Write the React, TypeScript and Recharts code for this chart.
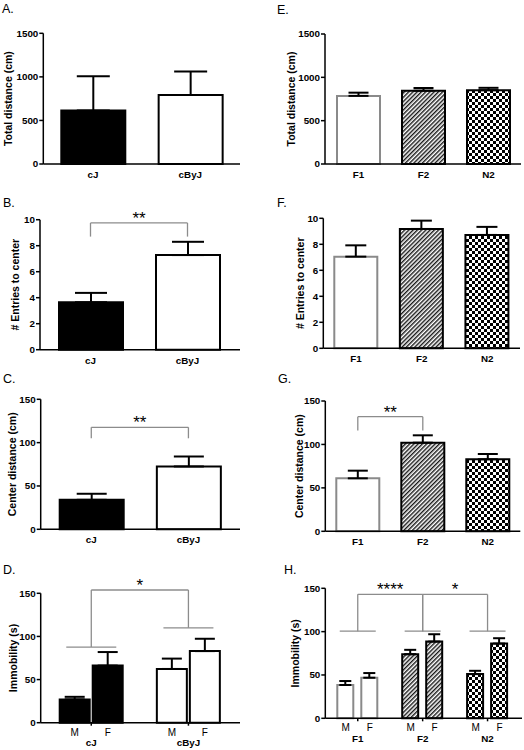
import React from 'react';
import { BarChart, Bar, XAxis, YAxis, ErrorBar, Cell, ReferenceLine, Label } from 'recharts';

const FONT = '"Liberation Sans", Arial, Helvetica, sans-serif';
const GREY = '#8c8c8c';

// parental strains (A-D)
const strains = ['cJ', 'cByJ'];
const totalDistStrain = [615, 792];
const totalDistStrainErr = [393, 269];
const entriesStrain = [3.65, 7.28];
const entriesStrainErr = [0.72, 1.02];
const centerDistStrain = [34, 72.5];
const centerDistStrainErr = [7, 11.5];
const immobStrainM = [27, 62.3];
const immobStrainMErr = [3, 12];
const immobStrainF = [66.2, 83];
const immobStrainFErr = [15.7, 14.3];

// crosses (E-H)
const crosses = ['F1', 'F2', 'N2'];
const totalDistCross = [786, 846, 852];
const totalDistCrossErr = [37, 31, 27];
const entriesCross = [7.05, 9.18, 8.72];
const entriesCrossErr = [0.87, 0.64, 0.62];
const centerDistCross = [61, 102, 82.9];
const centerDistCrossErr = [8.8, 8.5, 6.1];
const immobCrossM = [38.4, 74, 51];
const immobCrossMErr = [4.6, 5, 3.8];
const immobCrossF = [46.8, 88.5, 86.2];
const immobCrossFErr = [5.4, 8.5, 6.2];

const sexes = ['M', 'F'];

const distTicks = [0, 500, 1000, 1500];
const entryTicks = [0, 2, 4, 6, 8, 10];
const secTicks = [0, 50, 100, 150];

type Sig = { from: string; to: string; top: number; footFrom: number; footTo: number; text: string };
type Frame = { left: number; top: number; width: number; height: number; x0: number; x1: number; y0: number; y1: number; xh: number };

const tickStyle = { fill: '#000', fontSize: 9.8, fontWeight: 700, fontFamily: FONT };
const axisStyle = { stroke: '#000', strokeWidth: 1.5 };

const strainFill = ['#000', '#fff'];
const strainStroke = ['#000', '#000'];
const crossFill = (id: string) => ['#fff', `url(#hatch-${id})`, `url(#check-${id})`];
const crossStroke = ['#8a8a8a', '#000', '#000'];

function patterns(id: string) {
  return (
    <defs>
      <pattern id={`hatch-${id}`} patternUnits="userSpaceOnUse" width={3} height={3} patternTransform="rotate(45)">
        <rect width={3} height={3} fill="#fff" />
        <line x1={0.75} y1={0} x2={0.75} y2={3} stroke="#000" strokeWidth={1.3} />
      </pattern>
      <pattern id={`check-${id}`} patternUnits="userSpaceOnUse" width={6} height={6}>
        <rect width={6} height={6} fill="#fff" />
        <rect width={3} height={3} fill="#000" />
        <rect x={3} y={3} width={3} height={3} fill="#000" />
      </pattern>
    </defs>
  );
}

const yTitle = (text: string, x: number, cy: number) => () => (
  <text x={x} y={cy} transform={`rotate(-90 ${x} ${cy})`} textAnchor="middle" dominantBaseline="central"
    fontSize={10.5} fontWeight={700} fontFamily={FONT} fill="#000">{text}</text>
);

const shortLine = (half: number) => (props: any) => (
  <line x1={props.x1 - half} x2={props.x1 + half} y1={props.y1} y2={props.y1} stroke={GREY} strokeWidth={1.3} />
);

function brackets(sigs: Sig[]) {
  return sigs.flatMap((s, i) => [
    <ReferenceLine key={`h${i}`} segment={[{ x: s.from, y: s.top }, { x: s.to, y: s.top }]} stroke={GREY} strokeWidth={1.3} ifOverflow="visible">
      <Label value={s.text} position="top" offset={-1} fontSize={17} fontFamily={FONT} fill="#000" />
    </ReferenceLine>,
    <ReferenceLine key={`a${i}`} segment={[{ x: s.from, y: s.top }, { x: s.from, y: s.footFrom }]} stroke={GREY} strokeWidth={1.3} ifOverflow="visible" />,
    <ReferenceLine key={`b${i}`} segment={[{ x: s.to, y: s.top }, { x: s.to, y: s.footTo }]} stroke={GREY} strokeWidth={1.3} ifOverflow="visible" />,
  ]);
}

function marginOf(f: Frame) {
  return { top: f.y0 - f.top, right: f.left + f.width - f.x1, bottom: f.top + f.height - f.y1 - f.xh, left: 0 };
}

type SimpleProps = {
  id: string; frame: Frame; cats: string[]; values: number[]; errs: number[];
  fills: string[]; strokes: string[]; max: number; ticks: number[];
  title: string; titleX: number; padL: number; padR: number; barSize: number; capW: number; sigs?: Sig[];
};

function SimplePanel(p: SimpleProps) {
  const f = p.frame;
  const data = p.cats.map((name, i) => ({ name, value: p.values[i], err: [0, p.errs[i]] }));
  return (
    <div style={{ position: 'absolute', left: f.left, top: f.top }}>
      <BarChart width={f.width} height={f.height} data={data} margin={marginOf(f)}>
        {patterns(p.id)}
        <XAxis dataKey="name" type="category" interval={0} height={f.xh} tickLine={false} tickSize={0} tickMargin={7}
          axisLine={axisStyle} tick={tickStyle} padding={{ left: p.padL, right: p.padR }} />
        <YAxis type="number" domain={[0, p.max]} ticks={p.ticks} interval={0} width={f.x0 - f.left}
          tickSize={4} tickMargin={1} axisLine={axisStyle} tickLine={axisStyle} tick={tickStyle}>
          <Label content={yTitle(p.title, p.titleX - f.left, (f.y0 + f.y1) / 2 - f.top)} />
        </YAxis>
        <Bar dataKey="value" barSize={p.barSize} strokeWidth={2} isAnimationActive={false}>
          {data.map((d, i) => <Cell key={d.name} fill={p.fills[i]} stroke={p.strokes[i]} />)}
          <ErrorBar dataKey="err" width={p.capW} stroke="#000" strokeWidth={2} direction="y" isAnimationActive={false} />
        </Bar>
        {brackets(p.sigs || [])}
      </BarChart>
    </div>
  );
}

const groupTick = (half: number) => (props: any) => {
  const { x, y, payload } = props;
  return (
    <g>
      <text x={x - half} y={y + 10} textAnchor="middle" fontSize={10} fontFamily={FONT} fill="#000">{sexes[0]}</text>
      <text x={x + half} y={y + 10} textAnchor="middle" fontSize={10} fontFamily={FONT} fill="#000">{sexes[1]}</text>
      <text x={x} y={y + 20.5} textAnchor="middle" fontSize={9.8} fontWeight={700} fontFamily={FONT} fill="#000">{payload.value}</text>
    </g>
  );
};

type GroupProps = {
  id: string; frame: Frame; cats: string[]; m: number[]; mErr: number[]; f: number[]; fErr: number[];
  fills: string[]; strokes: string[]; max: number; ticks: number[]; title: string; titleX: number;
  padL: number; padR: number; barSize: number; barGap: number; capW: number; sigs: Sig[];
  lines: { at: string; y: number }[]; lineHalf: number;
};

function GroupPanel(p: GroupProps) {
  const fr = p.frame;
  const data = p.cats.map((name, i) => ({
    name, M: p.m[i], F: p.f[i], errM: [0, p.mErr[i]], errF: [0, p.fErr[i]],
  }));
  return (
    <div style={{ position: 'absolute', left: fr.left, top: fr.top }}>
      <BarChart width={fr.width} height={fr.height} data={data} margin={marginOf(fr)} barGap={p.barGap}>
        {patterns(p.id)}
        <XAxis dataKey="name" type="category" interval={0} height={fr.xh} tickSize={3} tickMargin={0}
          tickLine={axisStyle} axisLine={axisStyle} tick={groupTick((p.barSize + p.barGap) / 2)}
          padding={{ left: p.padL, right: p.padR }} />
        <YAxis type="number" domain={[0, p.max]} ticks={p.ticks} interval={0} width={fr.x0 - fr.left}
          tickSize={4} tickMargin={1} axisLine={axisStyle} tickLine={axisStyle} tick={tickStyle}>
          <Label content={yTitle(p.title, p.titleX - fr.left, (fr.y0 + fr.y1) / 2 - fr.top)} />
        </YAxis>
        <Bar dataKey="M" barSize={p.barSize} strokeWidth={2} isAnimationActive={false}>
          {data.map((d, i) => <Cell key={d.name} fill={p.fills[i]} stroke={p.strokes[i]} />)}
          <ErrorBar dataKey="errM" width={p.capW} stroke="#000" strokeWidth={2} direction="y" isAnimationActive={false} />
        </Bar>
        <Bar dataKey="F" barSize={p.barSize} strokeWidth={2} isAnimationActive={false}>
          {data.map((d, i) => <Cell key={d.name} fill={p.fills[i]} stroke={p.strokes[i]} />)}
          <ErrorBar dataKey="errF" width={p.capW} stroke="#000" strokeWidth={2} direction="y" isAnimationActive={false} />
        </Bar>
        {p.lines.map((l, i) => (
          <ReferenceLine key={`s${i}`} segment={[{ x: l.at, y: l.y }, { x: l.at, y: l.y }]} ifOverflow="visible" shape={shortLine(p.lineHalf)} />
        ))}
        {brackets(p.sigs)}
      </BarChart>
    </div>
  );
}

const panelLetters = [
  { t: 'A.', x: 2, y: 13 }, { t: 'B.', x: 3, y: 207 }, { t: 'C.', x: 3, y: 383 }, { t: 'D.', x: 3, y: 574 },
  { t: 'E.', x: 277, y: 14 }, { t: 'F.', x: 277, y: 207 }, { t: 'G.', x: 278, y: 383 }, { t: 'H.', x: 284, y: 574 },
];

export default function App() {
  return (
    <div style={{ position: 'absolute', left: 0, top: 0, width: 524, height: 750, background: '#fff', overflow: 'hidden' }}>
      <svg width={524} height={750} style={{ position: 'absolute', left: 0, top: 0 }}>
        {panelLetters.map((l) => (
          <text key={l.t} x={l.x} y={l.y} fontSize={12.5} fontFamily={FONT} fill="#000">{l.t}</text>
        ))}
      </svg>

      <SimplePanel id="a" frame={{ left: 0, top: 0, width: 262, height: 185, x0: 43.3, x1: 240, y0: 33.3, y1: 164, xh: 20 }}
        cats={strains} values={totalDistStrain} errs={totalDistStrainErr} fills={strainFill} strokes={strainStroke}
        max={1500} ticks={distTicks} title="Total distance (cm)" titleX={8.5} padL={1} padR={1} barSize={64} capW={16.5} />

      <SimplePanel id="b" frame={{ left: 0, top: 185, width: 262, height: 185, x0: 40, x1: 240, y0: 219.7, y1: 349.7, xh: 20 }}
        cats={strains} values={entriesStrain} errs={entriesStrainErr} fills={strainFill} strokes={strainStroke}
        max={10} ticks={entryTicks} title="# Entries to center" titleX={15.5} padL={2} padR={4} barSize={64} capW={16}
        sigs={[{ from: 'cJ', to: 'cByJ', top: 9.75, footFrom: 8.7, footTo: 8.7, text: '**' }]} />

      <SimplePanel id="c" frame={{ left: 0, top: 370, width: 262, height: 190, x0: 40.7, x1: 240, y0: 399.3, y1: 529.3, xh: 20 }}
        cats={strains} values={centerDistStrain} errs={centerDistStrainErr} fills={strainFill} strokes={strainStroke}
        max={150} ticks={secTicks} title="Center distance (cm)" titleX={11.7} padL={2} padR={3} barSize={64} capW={15}
        sigs={[{ from: 'cJ', to: 'cByJ', top: 117.7, footFrom: 105, footTo: 105, text: '**' }]} />

      <GroupPanel id="d" frame={{ left: 0, top: 560, width: 262, height: 190, x0: 40.7, x1: 240, y0: 593.3, y1: 722.7, xh: 26 }}
        cats={strains} m={immobStrainM} mErr={immobStrainMErr} f={immobStrainF} fErr={immobStrainFErr}
        fills={strainFill} strokes={strainStroke} max={150} ticks={secTicks} title="Immobility (s)" titleX={12.5}
        padL={2} padR={3} barSize={30} barGap={3} capW={10}
        sigs={[{ from: 'cJ', to: 'cByJ', top: 153.8, footFrom: 87.7, footTo: 110, text: '*' }]}
        lines={[{ at: 'cJ', y: 87.7 }, { at: 'cByJ', y: 110 }]} lineHalf={25} />

      <SimplePanel id="e" frame={{ left: 262, top: 0, width: 262, height: 185, x0: 325, x1: 521, y0: 34, y1: 164, xh: 20 }}
        cats={crosses} values={totalDistCross} errs={totalDistCrossErr} fills={crossFill('e')} strokes={crossStroke}
        max={1500} ticks={distTicks} title="Total distance (cm)" titleX={291} padL={1} padR={0} barSize={43} capW={10} />

      <SimplePanel id="f" frame={{ left: 262, top: 185, width: 262, height: 185, x0: 323.3, x1: 520, y0: 218.3, y1: 348.3, xh: 20 }}
        cats={crosses} values={entriesCross} errs={entriesCrossErr} fills={crossFill('f')} strokes={crossStroke}
        max={10} ticks={entryTicks} title="# Entries to center" titleX={300} padL={0} padR={0} barSize={43} capW={10.5} />

      <SimplePanel id="g" frame={{ left: 262, top: 370, width: 262, height: 190, x0: 325.3, x1: 520.3, y0: 401, y1: 531.3, xh: 20 }}
        cats={crosses} values={centerDistCross} errs={centerDistCrossErr} fills={crossFill('g')} strokes={crossStroke}
        max={150} ticks={secTicks} title="Center distance (cm)" titleX={299.5} padL={0} padR={0} barSize={43} capW={10}
        sigs={[{ from: 'F1', to: 'F2', top: 132, footFrom: 116, footTo: 116, text: '**' }]} />

      <GroupPanel id="h" frame={{ left: 262, top: 560, width: 262, height: 190, x0: 325.3, x1: 522, y0: 588.3, y1: 718.3, xh: 26 }}
        cats={crosses} m={immobCrossM} mErr={immobCrossMErr} f={immobCrossF} fErr={immobCrossFErr}
        fills={crossFill('h')} strokes={crossStroke} max={150} ticks={secTicks} title="Immobility (s)" titleX={295}
        padL={0} padR={2} barSize={16} barGap={8} capW={6}
        sigs={[
          { from: 'F1', to: 'F2', top: 143, footFrom: 100.5, footTo: 100.5, text: '****' },
          { from: 'F2', to: 'N2', top: 143, footFrom: 100.5, footTo: 100.5, text: '*' },
        ]}
        lines={[{ at: 'F1', y: 100.5 }, { at: 'F2', y: 100.5 }, { at: 'N2', y: 100.5 }]} lineHalf={18} />
    </div>
  );
}
